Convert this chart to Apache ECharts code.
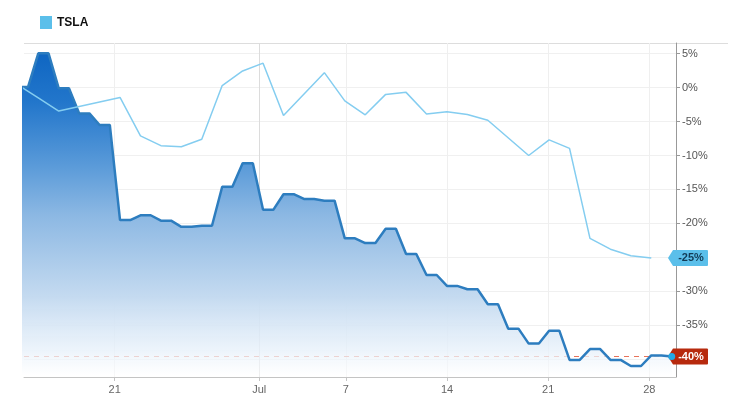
<!DOCTYPE html>
<html><head><meta charset="utf-8">
<script src="https://cdn.jsdelivr.net/npm/echarts@6/dist/echarts.min.js"></script>
<style>html,body{margin:0;padding:0;background:#fff}#c{width:740px;height:415px}</style>
</head><body><div id="c"></div>
<script>
// ---- data ----
const legendName = 'TSLA';
const xTickDays = [21, 31, 37, 44, 51, 58];           // day number counted from June 0
const xTickLabels = ['21', 'Jul', '7', '14', '21', '28'];
const yTicks = [5, 0, -5, -10, -15, -20, -25, -30, -35, -40];
// dark (area) series, one value per session
const darkValues = [0.1, 5.05, -0.1, -3.8, -5.5, -19.5, -18.8, -19.6, -20.5, -20.35,
  -14.6, -11.15, -18.0, -15.7, -16.4, -16.65, -22.2, -22.9, -20.8, -24.5,
  -27.6, -29.2, -29.7, -31.9, -35.5, -37.7, -35.8, -40.1, -38.5, -40.1,
  -41.0, -39.45, -39.6];
// light TSLA line, same sessions (null = no point)
const tslaValues = [0.4, -1.5, -3.45, null, null, -1.45, -7.1, -8.55, -8.7, -7.6,
  0.3, 2.45, 3.6, -4.1, null, 2.2, -1.95, -4.0, -1.0, -0.7,
  -3.9, -3.55, -3.95, -4.8, null, -10.0, -7.7, -8.95, -22.2, -23.8,
  -24.75, -25.1];

// ---- build ----
const FONT = 'Arial, "Liberation Sans", sans-serif';
const idxMin = 0.3, idxMax = 32.21;
const darkPts = [];
darkValues.forEach((v, k) => {
  darkPts.push([k, v]);
  if (k < darkValues.length - 1) darkPts.push([k + 0.5, v]);
});
const tslaPts = tslaValues.map((v, k) => [k, v === null ? '-' : v]);
const lastDark = darkValues[darkValues.length - 1];
const lastTsla = tslaValues[tslaValues.length - 1];
const lastDarkIdx = darkValues.length - 1;
const tagPath = 'path://M0,8 L5,0 L39,0 Q40,0 40,1 L40,15 Q40,16 39,16 L5,16 Z';

const chart = echarts.init(document.getElementById('c'), null, {renderer: 'canvas'});
chart.setOption({
  animation: false,
  textStyle: {fontFamily: FONT},
  legend: {
    left: 35, top: 11, icon: 'rect', itemWidth: 12, itemHeight: 13,
    data: [legendName],
    textStyle: {fontSize: 12, fontWeight: 'bold', color: '#111', fontFamily: FONT}
  },
  grid: {left: 24, right: 64, top: 43, bottom: 38},
  graphic: [{
    type: 'line', shape: {x1: 24, y1: 43.5, x2: 728, y2: 43.5},
    style: {stroke: '#dddddd', lineWidth: 1}, z: 0
  }],
  xAxis: [{
    type: 'value', min: 14.72, max: 59.85,
    axisLine: {show: true, onZero: false, lineStyle: {color: '#c4c4c4'}},
    axisTick: {show: true, length: 4, customValues: xTickDays, lineStyle: {color: '#c4c4c4'}},
    axisLabel: {
      customValues: xTickDays, color: '#666', fontSize: 11, margin: 7, fontFamily: FONT,
      formatter: v => xTickLabels[xTickDays.indexOf(Math.round(v))] || ''
    },
    splitLine: {show: true, lineStyle: {color: ['#efefef', '#dcdcdc', '#efefef', '#efefef', '#efefef', '#efefef'], width: 1}}
  }, {
    type: 'value', min: idxMin, max: idxMax, show: false
  }],
  yAxis: {
    type: 'value', position: 'right', min: -42.62, max: 6.57,
    axisLine: {show: true, lineStyle: {color: '#999'}},
    axisTick: {show: true, length: 4, customValues: yTicks, lineStyle: {color: '#999'}},
    axisLabel: {customValues: yTicks, color: '#555', fontSize: 11, margin: 6, fontFamily: FONT,
      formatter: v => v + '%'},
    splitLine: {show: true, lineStyle: {color: '#f0f0f0'}}
  },
  series: [{
    name: 'drawdown', type: 'line', xAxisIndex: 1, z: 2,
    data: darkPts, showSymbol: false, symbol: 'none',
    lineStyle: {color: '#2d7dbf', width: 2.5},
    areaStyle: {
      origin: 'start', opacity: 1,
      color: new echarts.graphic.LinearGradient(0, 0, 0, 1, [
        {offset: 0, color: '#0f66c2'},
        {offset: 0.15, color: '#2276cb'},
        {offset: 0.35, color: '#5b9bd9'},
        {offset: 0.5, color: '#8cb8e3'},
        {offset: 0.75, color: '#c4daf0'},
        {offset: 0.92, color: 'rgba(232,241,250,0.8)'},
        {offset: 1, color: 'rgba(255,255,255,0.5)'}
      ])
    },
    markLine: {
      z: 1, silent: true, symbol: 'none',
      lineStyle: {color: '#e8735a', type: [5, 5], width: 1},
      label: {show: false},
      data: [{yAxis: lastDark}]
    },
    markPoint: {
      z: 10, silent: true,
      data: [{
        coord: [idxMax, lastDark], value: lastDark,
        symbol: tagPath, symbolSize: [40, 16], symbolOffset: [12, 0], symbolKeepAspect: false,
        itemStyle: {color: '#b72a0e'},
        label: {show: true, position: 'inside', offset: [3, 0], color: '#fff', fontWeight: 'bold',
          fontSize: 11, fontFamily: FONT, formatter: p => Math.round(p.value) + '%'}
      }, {
        coord: [lastDarkIdx, lastDark], value: lastDark,
        symbol: 'circle', symbolSize: 7, itemStyle: {color: '#22aae8'},
        label: {show: false}
      }]
    }
  }, {
    name: legendName, type: 'line', xAxisIndex: 1, z: 3,
    data: tslaPts, connectNulls: true, showSymbol: false, symbol: 'none',
    itemStyle: {color: '#5bbfea'},
    lineStyle: {color: '#84cdf0', width: 1.5},
    markPoint: {
      z: 10, silent: true,
      data: [{
        coord: [idxMax, lastTsla], value: lastTsla,
        symbol: tagPath, symbolSize: [40, 16], symbolOffset: [12, 0], symbolKeepAspect: false,
        itemStyle: {color: '#5bbfea'},
        label: {show: true, position: 'inside', offset: [3, 0], color: '#123a55', fontWeight: 'bold',
          fontSize: 11, fontFamily: FONT, formatter: p => Math.round(p.value) + '%'}
      }]
    }
  }]
});
</script></body></html>
